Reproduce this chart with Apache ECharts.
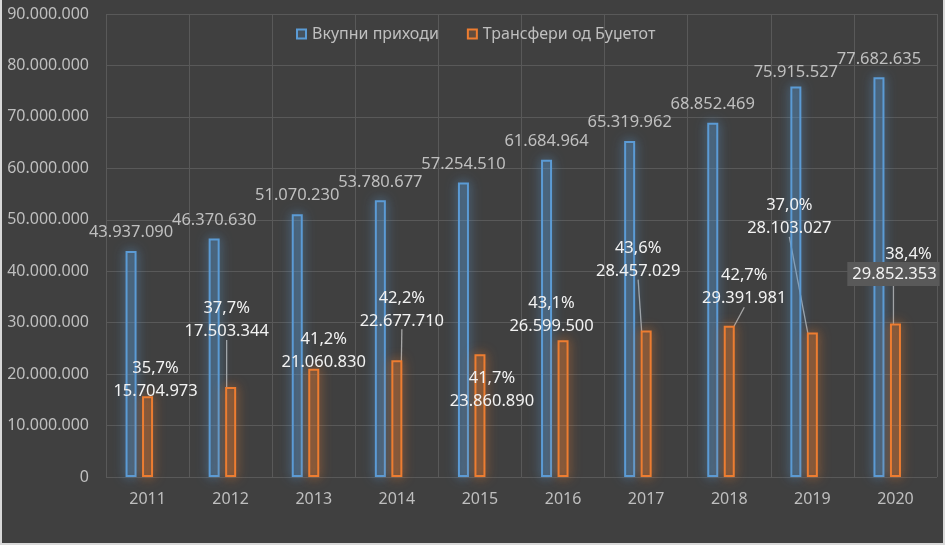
<!DOCTYPE html>
<html>
<head>
<meta charset="utf-8">
<script src="https://cdn.jsdelivr.net/npm/echarts@6/dist/echarts.min.js"></script>
<style>
  html, body { margin: 0; padding: 0; background: #404040; }
  #wrap { position: relative; width: 945px; height: 545px; }
  #c { width: 945px; height: 545px; }
  #frame { position: absolute; left: 0; top: 0; width: 945px; height: 545px; box-sizing: border-box;
           border-left: 2px solid #d9d9d9; border-right: 2px solid #d9d9d9; border-bottom: 2px solid #d9d9d9;
           pointer-events: none; }
</style>
</head>
<body>
<div id="wrap"><div id="c"></div><div id="frame"></div></div>
<script>
// ---- data ----
const years = ['2011', '2012', '2013', '2014', '2015', '2016', '2017', '2018', '2019', '2020'];
const totalRevenue = [43937090, 46370630, 51070230, 53780677, 57254510, 61684964, 65319962, 68852469, 75915527, 77682635];
const budgetTransfers = [15704973, 17503344, 21060830, 22677710, 23860890, 26599500, 28457029, 29391981, 28103027, 29852353];
const sharePct = ['35,7%', '37,7%', '41,2%', '42,2%', '41,7%', '43,1%', '43,6%', '42,7%', '37,0%', '38,4%'];
const seriesNames = ['Вкупни приходи', 'Трансфери од Буџетот'];

// ---- label placement (pixel offsets of labels from their bars) ----
const transferLabelShift = [[8, -16], [-4, -67], [10, -18], [5, -51], [12, 36], [-11.5, -25.5], [-8, -71], [15, -38.5], [-23, -115.5], [-2, -61]];
const transferLeader = [false, true, false, true, false, false, true, true, true, true];
const revenueLabelShift = [0, 0, 0, 0, 0, 0, 0, 0, 4, 0];

function fmt(n) {
  return String(Math.round(n)).replace(/\B(?=(\d{3})+(?!\d))/g, '.');
}

const FONT = 'Noto Sans';
const chart = echarts.init(document.getElementById('c'));

chart.setOption({
  backgroundColor: '#404040',
  textStyle: { fontFamily: FONT },
  animation: false,
  legend: {
    data: seriesNames,
    left: 291,
    top: 21,
    icon: 'rect',
    itemWidth: 9,
    itemHeight: 9,
    itemGap: 28,
    textStyle: { color: '#bfbfbf', fontSize: 16, fontFamily: FONT, padding: [0, 0, 0, 1] }
  },
  grid: { left: 106, right: 8, top: 14, bottom: 68 },
  xAxis: {
    type: 'category',
    data: years,
    axisLine: { show: false },
    axisTick: { show: false },
    splitLine: { show: true, lineStyle: { color: '#595959', width: 1 } },
    axisLabel: { color: '#bfbfbf', fontSize: 16, margin: 14, fontFamily: FONT }
  },
  yAxis: {
    type: 'value',
    min: 0,
    max: 90000000,
    interval: 10000000,
    axisLine: { show: false },
    axisTick: { show: false },
    splitLine: { lineStyle: { color: '#595959', width: 1 } },
    axisLabel: { color: '#bfbfbf', fontSize: 16, margin: 17, fontFamily: FONT, formatter: v => fmt(v) }
  },
  series: [
    {
      name: seriesNames[0],
      type: 'bar',
      barWidth: 11,
      barGap: '50%',
      data: totalRevenue,
      itemStyle: {
        color: 'rgba(91,155,213,0.2)',
        borderColor: '#5b9bd5',
        borderWidth: 2,
        shadowBlur: 12,
        shadowColor: 'rgba(91,155,213,0.9)'
      },
      label: {
        show: true,
        position: 'top',
        distance: 10,
        color: '#bfbfbf',
        fontSize: 16.5,
        fontFamily: FONT,
        formatter: p => fmt(p.value)
      },
      labelLayout: p => ({ dy: revenueLabelShift[p.dataIndex] })
    },
    {
      name: seriesNames[1],
      type: 'bar',
      barWidth: 11,
      barGap: '50%',
      data: budgetTransfers.map((v, i) => ({ value: v, labelLine: { show: transferLeader[i] } })),
      itemStyle: {
        color: 'rgba(237,125,49,0.2)',
        borderColor: '#ed7d31',
        borderWidth: 2,
        shadowBlur: 12,
        shadowColor: 'rgba(237,125,49,0.9)'
      },
      label: {
        show: true,
        position: 'top',
        distance: 0,
        align: 'center',
        verticalAlign: 'middle',
        color: '#f2f2f2',
        fontSize: 16.5,
        fontFamily: FONT,
        formatter: p => {
          const i = p.dataIndex;
          if (i === years.length - 1) {
            return '{a|' + sharePct[i] + '}\n{b|' + fmt(budgetTransfers[i]) + '}';
          }
          return '{p|' + sharePct[i] + '}\n{v|' + fmt(budgetTransfers[i]) + '}';
        },
        rich: {
          p: { color: '#f2f2f2', fontSize: 16.5, lineHeight: 23, fontFamily: FONT },
          v: { color: '#f2f2f2', fontSize: 16.5, lineHeight: 23, fontFamily: FONT },
          a: { color: '#f2f2f2', fontSize: 16.5, lineHeight: 23, fontFamily: FONT, align: 'right', padding: [0, 8, 0, 0] },
          b: { color: '#f2f2f2', fontSize: 16.5, lineHeight: 17, fontFamily: FONT, backgroundColor: '#595959', padding: [4, 3, 3, 5] }
        }
      },
      labelLine: { show: true, length2: 0, lineStyle: { color: '#a6a6a6', width: 1.3 } },
      labelLayout: p => ({ dx: transferLabelShift[p.dataIndex][0], dy: transferLabelShift[p.dataIndex][1] })
    },
    {
      // empty third slot in each category (as in the source chart)
      name: 'slot',
      type: 'bar',
      barWidth: 11,
      barGap: '50%',
      silent: true,
      data: []
    }
  ]
});
</script>
</body>
</html>
